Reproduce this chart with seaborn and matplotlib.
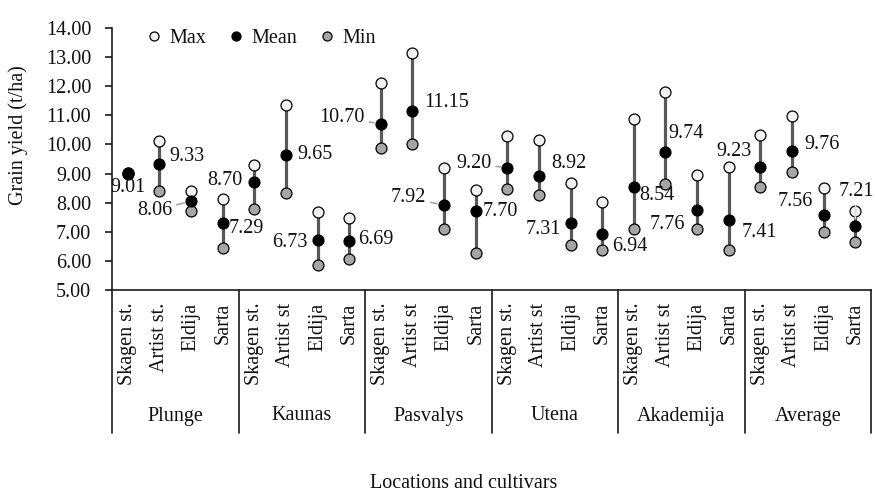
import numpy as np
import pandas as pd
import seaborn as sns
from matplotlib import pyplot as plt
from matplotlib.lines import Line2D
import matplotlib.transforms as mtransforms

locations = ['Plunge', 'Kaunas', 'Pasvalys', 'Utena', 'Akademija', 'Average']
cultivars = [['Skagen st.', 'Artist st.', 'Eldija', 'Sarta']] + [['Skagen st.', 'Artist st', 'Eldija', 'Sarta']] * 5

max_vals = [9.03, 10.11, 8.41, 8.13,
            9.30, 11.34, 7.68, 7.47,
            12.11, 13.15, 9.18, 8.43,
            10.30, 10.14, 8.66, 8.01,
            10.88, 11.80, 8.94, 9.21,
            10.33, 10.98, 8.49, 7.72]
mean_vals = [9.01, 9.33, 8.06, 7.29,
             8.70, 9.65, 6.73, 6.69,
             10.70, 11.15, 7.92, 7.70,
             9.20, 8.92, 7.31, 6.94,
             8.54, 9.74, 7.76, 7.41,
             9.23, 9.76, 7.56, 7.21]
min_vals = [8.98, 8.39, 7.72, 6.44,
            7.79, 8.32, 5.86, 6.06,
            9.87, 10.00, 7.10, 6.26,
            8.47, 8.26, 6.54, 6.39,
            7.10, 8.64, 7.10, 6.37,
            8.53, 9.04, 6.98, 6.66]

y_ticks = [5, 6, 7, 8, 9, 10, 11, 12, 13, 14]

# label placement for mean values: (dx px, dy px, ha, leader line)
label_pos = [(0, -14, 'center', None), (10, 7, 'left', None), (-19, -10, 'right', '#a6a6a6'), (6, -5, 'left', None),
             (-12, 2, 'right', None), (11, 0, 'left', None), (-10, -3, 'right', None), (9, 1, 'left', None),
             (-16, 7, 'right', '#a6a6a6'), (12, 8, 'left', None), (-18, 7, 'right', '#a6a6a6'), (7, 0, 'left', None),
             (-16, 4, 'right', '#a6a6a6'), (12, 12, 'left', None), (-10, -7, 'right', None), (10, -13, 'left', None),
             (5, -9, 'left', None), (3, 19, 'left', None), (-12, -15, 'right', None), (13, -13, 'left', None),
             (-9, 15, 'right', None), (12, 7, 'left', None), (-11, 14, 'right', None), (-17, 34, 'left', '#d9d9d9')]

FS = 14.5
TXT = '#111111'

sns.set_theme(style="white")
plt.rcParams['font.family'] = ['Liberation Serif', 'DejaVu Serif']
plt.rcParams['font.size'] = FS
plt.rcParams['text.color'] = TXT

n = len(mean_vals)
df = pd.DataFrame({'x': np.arange(n), 'Max': max_vals, 'Mean': mean_vals, 'Min': min_vals})

fig = plt.figure(figsize=(8.75, 4.93), dpi=100)
ax = fig.add_axes([112 / 875, 1 - 290 / 493, 759 / 875, 262 / 493])

line_c = '#595959'
ax.vlines(df['x'], df['Min'], df['Max'], color=line_c, lw=2.3, zorder=1)

colors = {'Max': '#f2f2f2', 'Min': '#a6a6a6', 'Mean': '#000000'}
for s in ['Max', 'Min', 'Mean']:
    sns.scatterplot(data=df, x='x', y=s, ax=ax, color=colors[s], s=62,
                    edgecolor='black', linewidth=0.9, zorder=3, legend=False)

for i, v in enumerate(mean_vals):
    dx, dy, ha, lc = label_pos[i]
    kw = {}
    if lc is not None:
        kw['arrowprops'] = dict(arrowstyle='-', color=lc, lw=1.2, shrinkA=1, shrinkB=5)
    ax.annotate(f'{v:.2f}', (i, v), xytext=(dx, dy), textcoords='offset pixels',
                ha=ha, va='center', fontsize=FS, color=TXT, **kw)

ax.set_xlim(-0.5, n - 0.5)
ax.set_ylim(5, 14)
ax.set_yticks(y_ticks, [f'{t:.2f}' for t in y_ticks])
ax.set_xticks(np.arange(n), [c for grp in cultivars for c in grp], rotation=90)
ax.tick_params(axis='x', length=0, pad=9, labelsize=FS, labelcolor=TXT)
ax.tick_params(axis='y', length=5, width=1.2, direction='out', left=True, pad=10,
               labelsize=FS, labelcolor=TXT, color='#1a1a1a')
ax.set_xlabel('')
ax.set_ylabel('')
for sp in ['top', 'right']:
    ax.spines[sp].set_visible(False)
for sp in ['left', 'bottom']:
    ax.spines[sp].set_color('#1a1a1a')
    ax.spines[sp].set_linewidth(1.2)

trans = mtransforms.blended_transform_factory(ax.transData, ax.transAxes)
bot = -(433 - 290) / 262
for b in np.arange(-0.5, n, 4):
    ax.plot([b, b], [0, bot], color='#1a1a1a', lw=1.2, transform=trans, clip_on=False)
for g, loc in enumerate(locations):
    ax.text(g * 4 + 1.5, -(416 - 290) / 262, loc, transform=trans, ha='center', va='center', fontsize=FS)

fig.text(18 / 875, 1 - 135 / 493, 'Grain yield (t/ha)', rotation=90, ha='center', va='center', fontsize=FS)
fig.text(464 / 875, 1 - 484 / 493, 'Locations and cultivars', ha='center', va='center', fontsize=FS)

handles = [Line2D([], [], ls='', marker='o', ms=6.5, mfc=colors[s], mec='black', mew=0.9, label=s)
           for s in ['Max', 'Mean', 'Min']]
ax.legend(handles=handles, loc='upper left', bbox_to_anchor=((146 - 112) / 759, 0.995), ncol=3,
          frameon=False, handlelength=0.8, handletextpad=0.35, columnspacing=1.1,
          borderpad=0, borderaxespad=0, fontsize=FS)

plt.savefig('out.png', dpi=100)
